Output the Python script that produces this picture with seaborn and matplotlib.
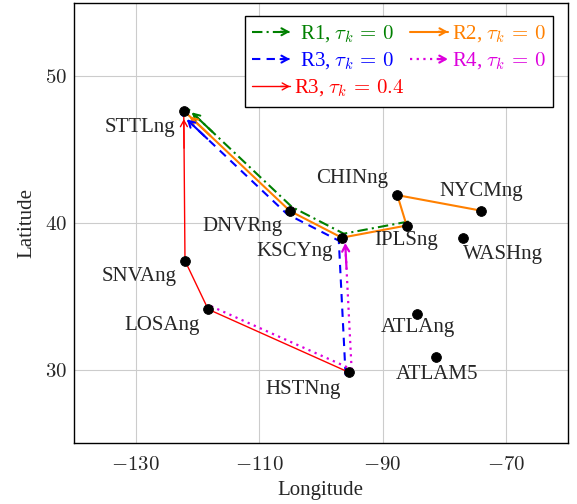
import numpy as np
import pandas as pd
import matplotlib
matplotlib.use("Agg")
import matplotlib.pyplot as plt
import matplotlib.transforms as mtransforms
from matplotlib.lines import Line2D
from matplotlib.patches import FancyArrowPatch
from matplotlib.legend_handler import HandlerLine2D
from matplotlib.ticker import FuncFormatter
import seaborn as sns

# node positions (longitude, latitude)
nodes = ["STTLng", "DNVRng", "KSCYng", "CHINng", "IPLSng", "NYCMng",
         "WASHng", "SNVAng", "LOSAng", "HSTNng", "ATLAng", "ATLAM5"]
lon = [-122.2, -105.0, -96.6, -87.6, -86.1, -74.0,
       -77.05, -122.0, -118.25, -95.5, -84.45, -81.4]
lat = [47.66, 40.82, 39.0, 41.9, 39.83, 40.84,
       38.96, 37.43, 34.12, 29.83, 33.8, 30.87]

# routes (sequence of nodes, arrow at the last one)
route_r1 = ["IPLSng", "KSCYng", "DNVRng", "STTLng"]
route_r2 = ["NYCMng", "CHINng", "IPLSng", "KSCYng", "DNVRng", "STTLng"]
route_r3 = ["HSTNng", "KSCYng", "DNVRng", "STTLng"]
route_r4 = ["LOSAng", "HSTNng", "KSCYng"]
route_r3b = ["HSTNng", "LOSAng", "SNVAng", "STTLng"]

pos = pd.DataFrame({"node": nodes, "lon": lon, "lat": lat}).set_index("node")

sns.set_style("whitegrid")
plt.rcParams["font.family"] = ["Liberation Serif", "DejaVu Serif"]
plt.rcParams["mathtext.fontset"] = "cm"

fig = plt.figure(figsize=(5.77, 5.04), dpi=100)
ax = fig.add_axes([0.128, 0.121, 0.856, 0.873])

lab_r1 = r"$\,\,$R1, $\tau_k \,=\, 0$"
lab_r2 = r"R2, $\tau_k \,=\, 0$"
lab_r3 = r"$\,\,$R3, $\tau_k \,=\, 0$"
lab_r4 = r"R4, $\tau_k \,=\, 0$"
lab_r3b = r"R3, $\tau_k \,=\, 0.4$"

# (label, route, color, linestyle, linewidth, pixel offset)
routes = [
    (lab_r1, route_r1, "#008000", (0, (5, 2, 1, 2)), 1.5, (2, 4)),
    (lab_r2, route_r2, "#ff8000", "-", 1.5, (0, 0)),
    (lab_r3, route_r3, "#0000ff", (0, (4, 3)), 1.5, (-3, -3)),
    (lab_r4, route_r4, "#dd00dd", (0, (1, 2)), 1.6, (3, 3)),
    (lab_r3b, route_r3b, "#ff0000", "-", 1.0, (0, 0)),
]

handles = {}
for label, route, color, ls, lw, off in routes:
    df = pos.loc[route].reset_index()
    tr = mtransforms.offset_copy(ax.transData, fig=fig, x=off[0], y=off[1], units="dots")
    sns.lineplot(data=df, x="lon", y="lat", sort=False, estimator=None, ax=ax,
                 color=color, linestyle=ls, linewidth=lw, transform=tr)
    p_end = df.iloc[-1][["lon", "lat"]].to_numpy(float)
    p_prev = df.iloc[-2][["lon", "lat"]].to_numpy(float)
    start = p_end + 0.25 * (p_prev - p_end)
    ax.annotate("", xy=p_end, xycoords=tr, xytext=start, textcoords=tr,
                arrowprops=dict(arrowstyle="->,head_length=0.45,head_width=0.25",
                                color=color, lw=lw, shrinkA=0, shrinkB=6))
    handles[label] = Line2D([], [], color=color, linestyle=ls, linewidth=lw)

sns.scatterplot(data=pos.reset_index(), x="lon", y="lat", color="black", s=50,
                edgecolor="black", zorder=5, ax=ax)

# label placement (ha, pixel offset)
label_pos = {
    "STTLng": ("right", (-9, -17)),
    "DNVRng": ("right", (-7, -16)),
    "KSCYng": ("right", (-9, -14)),
    "CHINng": ("right", (-9, 17)),
    "IPLSng": ("center", (-1, -15)),
    "NYCMng": ("center", (0, 19)),
    "WASHng": ("left", (0, -16)),
    "SNVAng": ("right", (-8, -16)),
    "LOSAng": ("right", (-8, -16)),
    "HSTNng": ("right", (-8, -17)),
    "ATLAng": ("center", (1, -14)),
    "ATLAM5": ("center", (1, -18)),
}
for n in nodes:
    ha, off = label_pos[n]
    ax.annotate(n, (pos.loc[n, "lon"], pos.loc[n, "lat"]), xytext=off,
                textcoords="offset pixels", ha=ha, va="center", fontsize=15)


class ArrowLineHandler(HandlerLine2D):
    def create_artists(self, legend, orig_handle, xdescent, ydescent, width,
                       height, fontsize, trans):
        arts = super().create_artists(legend, orig_handle, xdescent, ydescent,
                                      width, height, fontsize, trans)
        y = (height - ydescent) / 2
        arr = FancyArrowPatch((width * 0.75, y), (width, y),
                              arrowstyle="->,head_length=0.45,head_width=0.25",
                              color=orig_handle.get_color(),
                              lw=orig_handle.get_linewidth(), transform=trans,
                              shrinkA=0, shrinkB=0, mutation_scale=10)
        return list(arts) + [arr]


order = [lab_r1, lab_r3, lab_r3b, lab_r2, lab_r4]
leg = ax.legend([handles[k] for k in order], order, loc="upper right", ncol=2,
                fontsize=15, frameon=True, fancybox=False, framealpha=1,
                edgecolor="black", labelcolor="linecolor", handlelength=1.8,
                handletextpad=0.18, columnspacing=0.3, borderpad=0.35,
                labelspacing=0.3, borderaxespad=0, bbox_to_anchor=(0.97, 0.97),
                handler_map={Line2D: ArrowLineHandler()})
leg.get_frame().set_linewidth(1.0)

ax.set_xlim(-140, -60)
ax.set_ylim(25, 55)
ax.set_xticks([-130, -110, -90, -70])
ax.set_yticks([30, 40, 50])
ax.xaxis.set_major_formatter(FuncFormatter(lambda v, p: f"${v:.0f}$"))
ax.yaxis.set_major_formatter(FuncFormatter(lambda v, p: f"${v:.0f}$"))
ax.tick_params(labelsize=15, direction="in", length=4, color="#999999")
ax.tick_params(axis="x", pad=9.5)
ax.tick_params(axis="y", pad=5)
ax.grid(True, color="#cccccc", linewidth=0.8)
for s in ax.spines.values():
    s.set_color("black")
    s.set_linewidth(1.0)

ax.set_xlabel("Longitude", fontsize=15)
ax.set_ylabel("Latitude", fontsize=15, labelpad=6)

fig.savefig("out.png", dpi=100)
